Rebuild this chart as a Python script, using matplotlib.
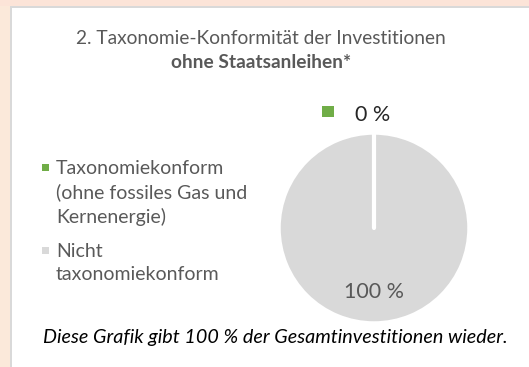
import numpy as np
import matplotlib.pyplot as plt
import matplotlib as mpl
from matplotlib.patches import Rectangle


mpl.rcParams['font.family'] = ['Lato', 'DejaVu Sans']

# Anteile der Investitionen ohne Staatsanleihen (in %)
categories = ["Taxonomiekonform\n(ohne fossiles Gas und\nKernenergie)",
              "Nicht\ntaxonomiekonform"]
shares     = [0, 100]
colors     = ["#70AD47", "#D9D9D9"]

title_line1 = "2. Taxonomie-Konformität der Investitionen"
title_line2 = "ohne Staatsanleihen*"
footnote    = "Diese Grafik gibt 100 % der Gesamtinvestitionen wieder."

W, H = 529, 367
TXT = "#595959"


def fx(px):
    return px / W


def fy(py):
    return 1 - py / H


def main():
    fig = plt.figure(figsize=(W / 100, H / 100), dpi=100)
    fig.patch.set_facecolor("white")

    # Rahmen: farbige Streifen oben und links mit grauer Kante
    fig.patches.append(Rectangle((0, fy(6)), 1, 6 / H, transform=fig.transFigure,
                                 facecolor="#FCE4D8", edgecolor="none", zorder=0))
    fig.patches.append(Rectangle((0, fy(8)), 1, 2 / H, transform=fig.transFigure,
                                 facecolor="#D9D9D9", edgecolor="none", zorder=0))
    fig.patches.append(Rectangle((0, 0), fx(10), fy(6), transform=fig.transFigure,
                                 facecolor="#FBE9DA", edgecolor="none", zorder=0))
    fig.patches.append(Rectangle((fx(10), 0), 2 / W, fy(6), transform=fig.transFigure,
                                 facecolor="#D9D9D9", edgecolor="none", zorder=0))

    fig.text(fx(261), fy(38), title_line1, ha="center", va="center",
             fontsize=13.8, color=TXT)
    fig.text(fx(261), fy(62), title_line2, ha="center", va="center",
             fontsize=13.8, color=TXT, fontweight="bold")

    # Kreisdiagramm
    cx, cy, r = 374, 228, 95
    ax = fig.add_axes([fx(cx - r), fy(cy + r), 2 * r / W, 2 * r / H])
    ax.pie(shares, colors=colors, startangle=90, counterclock=False,
           wedgeprops=dict(edgecolor="white", linewidth=2.5))
    ax.set_xlim(-1, 1)
    ax.set_ylim(-1, 1)
    ax.set_aspect("auto")

    # Trennlinien zwischen den Segmenten
    bounds = 90 - 360 * np.cumsum([0] + shares[:-1]) / sum(shares)
    for ang in np.unique(np.round(bounds % 360, 6)):
        a = np.deg2rad(ang)
        ax.plot([0, np.cos(a)], [0, np.sin(a)], color="white", lw=3,
                solid_capstyle="round", zorder=5)

    ax.text(0, -0.67, f"{shares[1]} %", ha="center", va="center",
            fontsize=15.5, color=TXT)
    ax.text(-0.2, 1.19, f"{shares[0]} %", ha="left", va="center",
            fontsize=15.5, color="#262626", clip_on=False)
    ax.add_patch(Rectangle((-0.55, 1.165), 0.13, 0.12, facecolor=colors[0],
                           edgecolor="none", clip_on=False))

    # Legende
    y_pos = [167, 250]
    for label, col, yp in zip(categories, colors, y_pos):
        fig.patches.append(Rectangle((fx(42), fy(yp + 4)), 7 / W, 7 / H,
                                     transform=fig.transFigure,
                                     facecolor=col, edgecolor="none"))
        fig.text(fx(56), fy(yp - 7), label, ha="left", va="top",
                 fontsize=14, color=TXT, linespacing=1.42)

    fig.text(fx(275), fy(338), footnote, ha="center", va="center",
             fontsize=14.2, color="black", style="italic")

    fig.savefig("out.png", dpi=100)


if __name__ == "__main__":
    main()
